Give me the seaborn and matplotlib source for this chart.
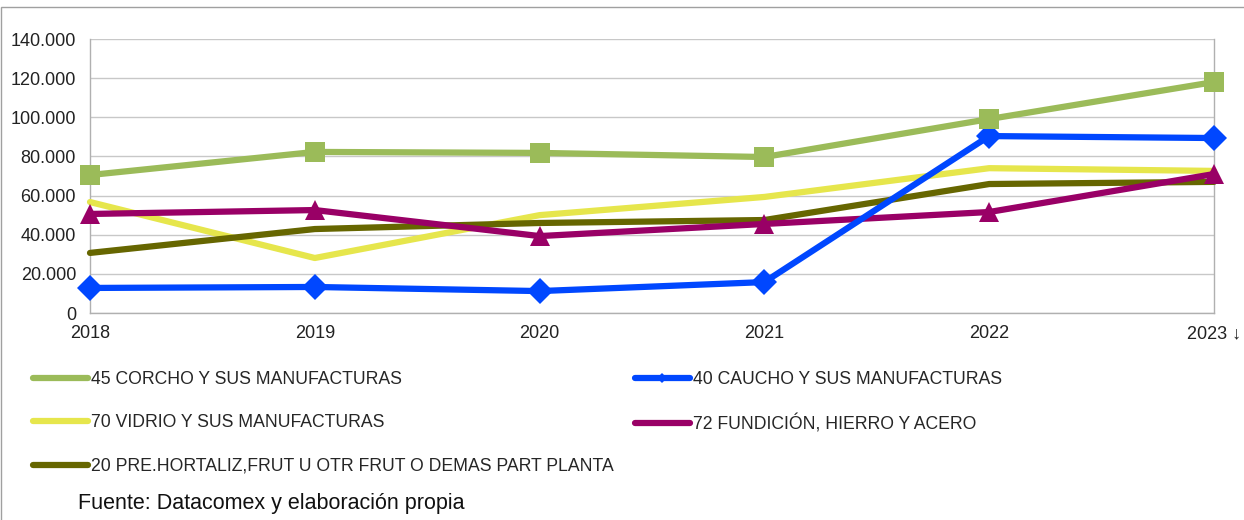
import pandas as pd
import matplotlib.pyplot as plt
import seaborn as sns
from matplotlib.lines import Line2D
from matplotlib.patches import Rectangle

# data (thousands of euros)
years = [2018, 2019, 2020, 2021, 2022, 2023]
year_labels = ['2018', '2019', '2020', '2021', '2022', '2023 \u2193']
corcho = [70500, 82300, 81800, 79700, 99100, 118000]
caucho = [12800, 13300, 11200, 15800, 90400, 89400]
vidrio = [56700, 28100, 50000, 59300, 74000, 72600]
hortaliz = [30700, 42900, 46000, 47500, 65900, 67000]
fundicion = [50600, 52600, 39300, 45500, 51600, 71000]

names = ['45 CORCHO Y SUS MANUFACTURAS', '40 CAUCHO Y SUS MANUFACTURAS',
         '70 VIDRIO Y SUS MANUFACTURAS', '72 FUNDICIÓN, HIERRO Y ACERO',
         '20 PRE.HORTALIZ,FRUT U OTR FRUT O DEMAS PART PLANTA']
colors = ['#9bbb59', '#0047ff', '#e6e64c', '#990066', '#666600']
markers = ['s', 'D', None, '^', None]
msizes = [14, 13, 0, 14, 0]

sns.set_style("white")
plt.rcParams['font.family'] = ['Liberation Sans', 'DejaVu Sans']

fig = plt.figure(figsize=(12.44, 5.2), dpi=100)
ax = fig.add_axes([90 / 1244, 1 - 313 / 520, (1214 - 90) / 1244, (313 - 39) / 520])

# draw order: back to front
order = [2, 4, 3, 1, 0]
for i in order:
    vals = [corcho, caucho, vidrio, fundicion, hortaliz][i]
    sns.lineplot(x=years, y=vals, ax=ax, color=colors[i], linewidth=4.5,
                 marker=markers[i], markersize=msizes[i], markeredgewidth=0,
                 legend=False, clip_on=False, zorder=3)

ax.set_xlim(2018, 2023)
ax.set_ylim(0, 140000)
ax.set_yticks(range(0, 140001, 20000))
ax.set_yticklabels(['0'] + [f'{v // 1000}.000' for v in range(20000, 140001, 20000)])
ax.set_xticks(years)
ax.set_xticklabels(year_labels)
ax.tick_params(axis='both', labelsize=13, colors='#222222')
ax.tick_params(axis='x', direction='out', length=5, color='#aaaaaa', pad=4)
ax.tick_params(axis='y', length=0, pad=10)
ax.grid(axis='y', color='#c8c8c8', linewidth=1)
ax.set_axisbelow(True)
for side in ['left', 'right', 'bottom']:
    ax.spines[side].set_color('#b0b0b0')
    ax.spines[side].set_linewidth(1)
ax.spines['top'].set_visible(False)
ax.set_xlabel('')
ax.set_ylabel('')

# legend in two columns, column-wise fill
leg_order = [0, 2, 4, 1, 3]
handles = []
for i in leg_order:
    handles.append(Line2D([0], [0], color=colors[i], linewidth=4.5,
                          marker=markers[i] if markers[i] else None,
                          markersize=5, markeredgewidth=0))
fig.legend(handles, [names[i] for i in leg_order], ncol=2, frameon=False,
           loc='upper left', bbox_to_anchor=(17 / 1244, 1 - 355 / 520),
           fontsize=12.7, handlelength=3.1, handletextpad=0.2,
           labelspacing=1.5, columnspacing=1.2)

fig.text(78 / 1244, 1 - 503 / 520, 'Fuente: Datacomex y elaboración propia',
         fontsize=15.5, va='center', ha='left', color='#111111')

# outer chart frame
fig.patches.append(Rectangle((1 / 1244, -0.01), 1.5, 1 - 7 / 520 + 0.01,
                             transform=fig.transFigure, fill=False,
                             edgecolor='#a0a0a0', linewidth=1))

fig.savefig('out.png', dpi=100)
